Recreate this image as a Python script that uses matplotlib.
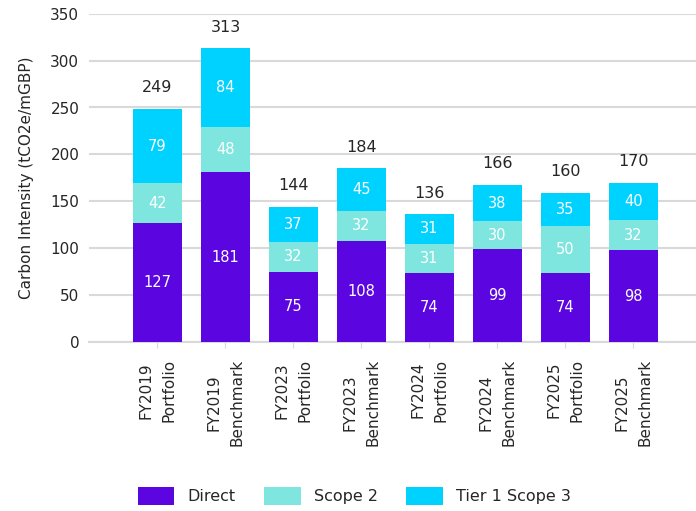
import matplotlib
matplotlib.use("Agg")
import matplotlib.pyplot as plt
import numpy as np

categories = ["FY2019\nPortfolio", "FY2019\nBenchmark", "FY2023\nPortfolio", "FY2023\nBenchmark",
              "FY2024\nPortfolio", "FY2024\nBenchmark", "FY2025\nPortfolio", "FY2025\nBenchmark"]
direct = [127, 181, 75, 108, 74, 99, 74, 98]
scope2 = [42, 48, 32, 32, 31, 30, 50, 32]
tier1_scope3 = [79, 84, 37, 45, 31, 38, 35, 40]
totals = [249, 313, 144, 184, 136, 166, 160, 170]
yticks = [0, 50, 100, 150, 200, 250, 300, 350]

plt.rcParams['font.family'] = ['DejaVu Sans']
text_col = "#262626"
fig = plt.figure(figsize=(6.96, 5.11), dpi=100)
ax = fig.add_axes([89/696, 169/511, 1 - 89/696, (342 - 13.7)/511])

x = np.arange(len(categories))
w = 0.72
series = [("Direct", direct, "#5B06E0"), ("Scope 2", scope2, "#7FE6DF"), ("Tier 1 Scope 3", tier1_scope3, "#00D2FF")]
bottom = np.zeros(len(categories))
for name, vals, col in series:
    vals = np.array(vals, dtype=float)
    ax.bar(x, vals, w, bottom=bottom, color=col, label=name, zorder=3)
    for xi, b, v in zip(x, bottom, vals):
        ax.text(xi, b + v / 2, f"{int(v)}", ha="center", va="center", color="white", fontsize=10.5, zorder=4)
    bottom += vals

for xi, top, t in zip(x, bottom, totals):
    ax.annotate(f"{t}", (xi, top), xytext=(0, 10), textcoords="offset points",
                ha="center", va="bottom", fontsize=11.5, color=text_col)

ax.set_ylim(0, 350)
ax.set_xlim(-1.007, 7.92)
ax.set_yticks(yticks)
ax.set_yticklabels([str(v) for v in yticks], fontsize=11, color=text_col)
ax.set_xticks(x)
ax.set_xticklabels(categories, rotation=90, fontsize=11, color=text_col, linespacing=1.6)
ax.tick_params(axis="y", length=0, pad=7)
ax.tick_params(axis="x", length=4, color="#D9D9D9", pad=8)
ax.grid(axis="y", color="#D9D9D9", linewidth=1.5, zorder=0)
for s in ["top", "right", "left"]:
    ax.spines[s].set_visible(False)
ax.spines["bottom"].set_color("#D9D9D9")
ax.spines["bottom"].set_linewidth(1.5)
ax.set_ylabel("Carbon Intensity (tCO2e/mGBP)", fontsize=11, color=text_col, labelpad=12)

fig.legend(loc="center", bbox_to_anchor=(0.509, 1 - 496/511), ncol=3, frameon=False,
           fontsize=11.5, handlelength=2.3, handleheight=1.4, columnspacing=1.8, handletextpad=0.8,
           labelcolor=text_col)

fig.savefig("out.png", dpi=100)
